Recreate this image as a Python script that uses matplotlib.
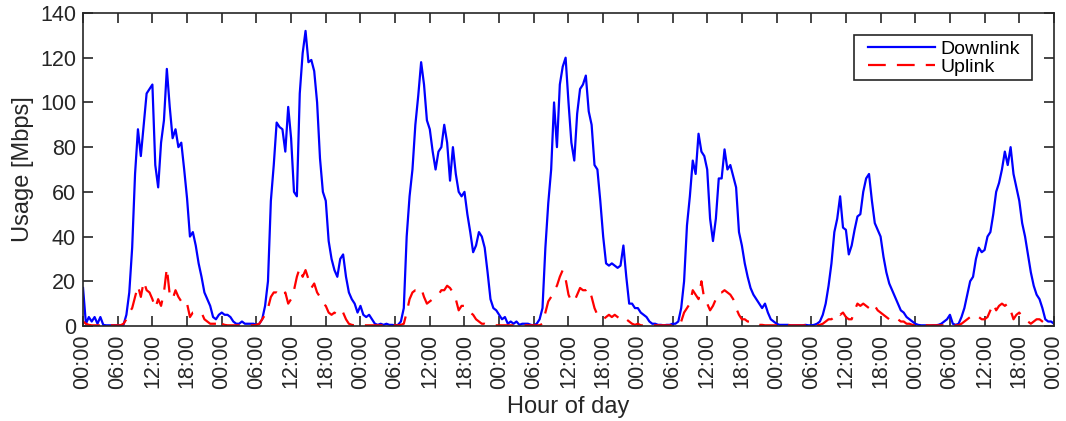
import numpy as np
import matplotlib
matplotlib.use("Agg")
import matplotlib.pyplot as plt
from matplotlib.patches import Rectangle

# Half-hourly samples (h0, h0.5, ... h23.5) for each of the 7 days, in Mbps
down_day1 = [17, 1, 4, 2, 4, 1, 4, 0.5, 0.3, 0.3, 0.3, 0.3, 0.3, 0.3,
             0.5, 5, 15, 35, 68, 88, 76, 90, 104, 106, 108, 72, 62, 82, 92, 115,
             98, 84, 88, 80, 82, 70, 57, 40, 42, 36, 28, 22, 15, 12, 9, 4, 3, 5]
down_day2 = [6, 5, 5, 4, 2, 1, 1, 2, 1, 1, 1, 1, 0.5, 1,
             3, 9, 20, 56, 72, 91, 89, 88, 78, 98, 84, 60, 58, 104, 122, 132,
             118, 119, 114, 100, 75, 60, 56, 38, 30, 25, 22, 30, 32, 22, 15, 12, 10, 6]
down_day3 = [9, 5, 4, 5, 3, 1, 0.5, 1, 0.5, 1, 0.5, 0.5, 0.3, 0.5, 2, 8,
             40, 58, 70, 90, 103, 118, 108, 92, 88, 78, 70, 78, 80, 90, 82, 65,
             80, 68, 60, 58, 60, 50, 42, 33, 36, 42, 40, 35, 24, 12, 8, 7]
down_day4 = [5, 3, 4, 1, 2, 1, 2, 0.5, 1, 1, 1, 0.5, 0.3, 1, 3, 8,
             35, 55, 70, 100, 80, 108, 116, 120, 100, 82, 74, 95, 106, 108, 112, 96,
             90, 72, 70, 56, 40, 28, 27, 28, 27, 26, 27, 36, 22, 10, 10, 8]
down_day5 = [8, 6, 5, 4, 2, 1, 1, 0.5, 0.5, 0.3, 0.5, 0.5, 1, 1, 2, 8,
             20, 45, 58, 74, 68, 86, 78, 76, 70, 48, 38, 48, 66, 66, 79, 70,
             72, 67, 62, 42, 36, 28, 22, 17, 14, 12, 10, 8, 10, 6, 3, 2]
down_day6 = [1, 0.5, 0.5, 0.5, 0.5, 0.3, 0.3, 0.3, 0.3, 0.3, 0.5, 0.3, 0.3, 0.5,
             1, 2, 5, 10, 18, 28, 42, 48, 58, 44, 43, 32, 36, 43, 49, 50,
             60, 66, 68, 56, 46, 43, 40, 31, 24, 19, 16, 13, 10, 7, 6, 4, 3, 2]
down_day7 = [1, 0.5, 0.3, 0.3, 0.3, 0.2, 0.3, 0.3, 0.5, 1, 2, 3, 5, 1, 0.5, 1,
             4, 8, 14, 20, 22, 30, 35, 33, 34, 40, 42, 50, 60, 64, 70, 78,
             72, 80, 68, 62, 56, 46, 40, 32, 24, 18, 14, 12, 8, 3, 2, 2, 1]

up_day1 = [2, 1, 0.5, 0.3, 0.3, 0.3, 0.3, 0.3, 0.3, 0.3, 0.3, 0.3, 0.3, 0.3,
           1, 3, 6, 8, 13, 18, 13, 20, 16, 15, 12, 8, 12, 9, 15, 26,
           14, 12, 16, 13, 11, 9, 10, 4, 6, 6, 6, 6, 3, 2, 1, 1, 1, 3]
up_day2 = [1, 0.5, 0.3, 0.3, 0.3, 0.3, 0.3, 0.3, 0.3, 0.3, 0.3, 0.3, 0.5, 1,
           3, 5, 8, 13, 15, 15, 14, 13, 15, 10, 12, 16, 22, 26, 22, 25,
           21, 17, 19, 15, 13, 10, 9, 6, 5, 6, 5, 4, 6, 3, 1, 0.5, 0.3, 0.3]
up_day3 = [0.5, 0.3, 0.3, 0.3, 0.3, 0.3, 0.3, 0.3, 0.3, 0.3, 0.3, 0.3, 0.3, 0.3,
           0.5, 1, 6, 12, 15, 16, 16, 17, 13, 10, 11, 12, 13, 14, 16, 16,
           18, 17, 15, 12, 7, 9, 9, 8, 6, 5, 3, 2, 1, 1, 0.5, 0.3, 0.3, 0.3]
up_day4 = [0.3, 0.3, 0.3, 0.3, 0.3, 0.3, 0.3, 0.3, 0.3, 0.3, 0.3, 0.3, 0.3, 0.3, 0.3, 1,
           6, 11, 13, 16, 18, 22, 25, 21, 14, 11, 11, 14, 17, 16, 16, 17,
           13, 8, 5, 4, 3, 4, 5, 4, 5, 4, 3, 2, 3, 2, 1, 0.5]
up_day5 = [1, 0.3, 0.3, 0.3, 0.3, 0.3, 0.3, 0.3, 0.3, 0.3, 0.3, 0.3, 0.3, 0.3,
           0.5, 2, 6, 8, 10, 16, 14, 12, 20, 12, 10, 7, 9, 12, 15, 15,
           16, 15, 14, 12, 8, 5, 3, 3, 2, 2, 1, 1, 0.5, 0.5, 0.3, 0.3, 0.3, 0.3]
up_day6 = [0.3, 0.3, 0.3, 0.3, 0.3, 0.3, 0.3, 0.3, 0.3, 0.3, 0.3, 0.3, 0.3, 0.3, 0.3, 0.5,
           1, 2, 3, 3, 4, 6, 5, 6, 4, 3, 3, 7, 10, 9, 10, 9,
           8, 10, 9, 7, 6, 5, 4, 3, 3, 2, 3, 2, 2, 1, 1, 0.5]
up_day7 = [0.3, 0.3, 0.3, 0.3, 0.3, 0.3, 0.3, 0.3, 0.3, 0.3, 0.3, 0.3, 0.3, 0.3, 0.3, 0.3,
           1, 2, 3, 4, 4, 3, 4, 3, 3, 4, 7, 10, 7, 9, 10, 9,
           10, 7, 3, 5, 6, 4, 3, 2, 1, 2, 3, 3, 2, 1, 0.5, 0.3, 0.3]

tick_labels = ["00:00", "06:00", "12:00", "18:00"] * 7 + ["00:00"]

downlink = np.array(down_day1 + down_day2 + down_day3 + down_day4 +
                    down_day5 + down_day6 + down_day7)
uplink = np.array(up_day1 + up_day2 + up_day3 + up_day4 +
                  up_day5 + up_day6 + up_day7)
hours = np.arange(len(downlink)) * 0.5

dark = "#262626"
plt.rcParams['font.family'] = ['Liberation Sans', 'DejaVu Sans']

fig = plt.figure(figsize=(10.66, 4.21), dpi=100)
ax = fig.add_axes([0.0779, 0.2257, 0.9108, 0.7434])

ax.plot(hours, downlink, color="#0000ff", lw=1.6, label="Downlink")
ax.plot(hours, uplink, color="#ff0000", lw=1.6, dashes=(8, 5), label="Uplink")

ax.set_xlim(0, 168)
ax.set_ylim(0, 140)
ax.set_yticks(np.arange(0, 141, 20))
ax.set_xticks(np.arange(0, 169, 6))
ax.set_xticklabels(tick_labels, rotation=90)

ax.tick_params(direction="in", length=7, width=1.2, top=True, right=True,
               labelsize=15.5, colors=dark, pad=5)
ax.tick_params(axis="x", pad=6)
for s in ax.spines.values():
    s.set_linewidth(1.2)
    s.set_color(dark)

ax.set_xlabel("Hour of day", fontsize=17, color=dark, labelpad=5)
ax.set_ylabel("Usage [Mbps]", fontsize=17, color=dark, labelpad=4)

leg = ax.legend(loc="center left", bbox_to_anchor=(0.808, 0.856), fontsize=14,
                frameon=False, handlelength=3.45,
                borderpad=0, labelspacing=0.05, handletextpad=0.3,
                borderaxespad=0)
for t in leg.get_texts():
    t.set_color("black")
ax.add_patch(Rectangle((0.794, 0.786), 0.183, 0.144, transform=ax.transAxes,
                       fill=False, edgecolor=dark, lw=1.2, zorder=5))

fig.savefig("out.png", dpi=100)
